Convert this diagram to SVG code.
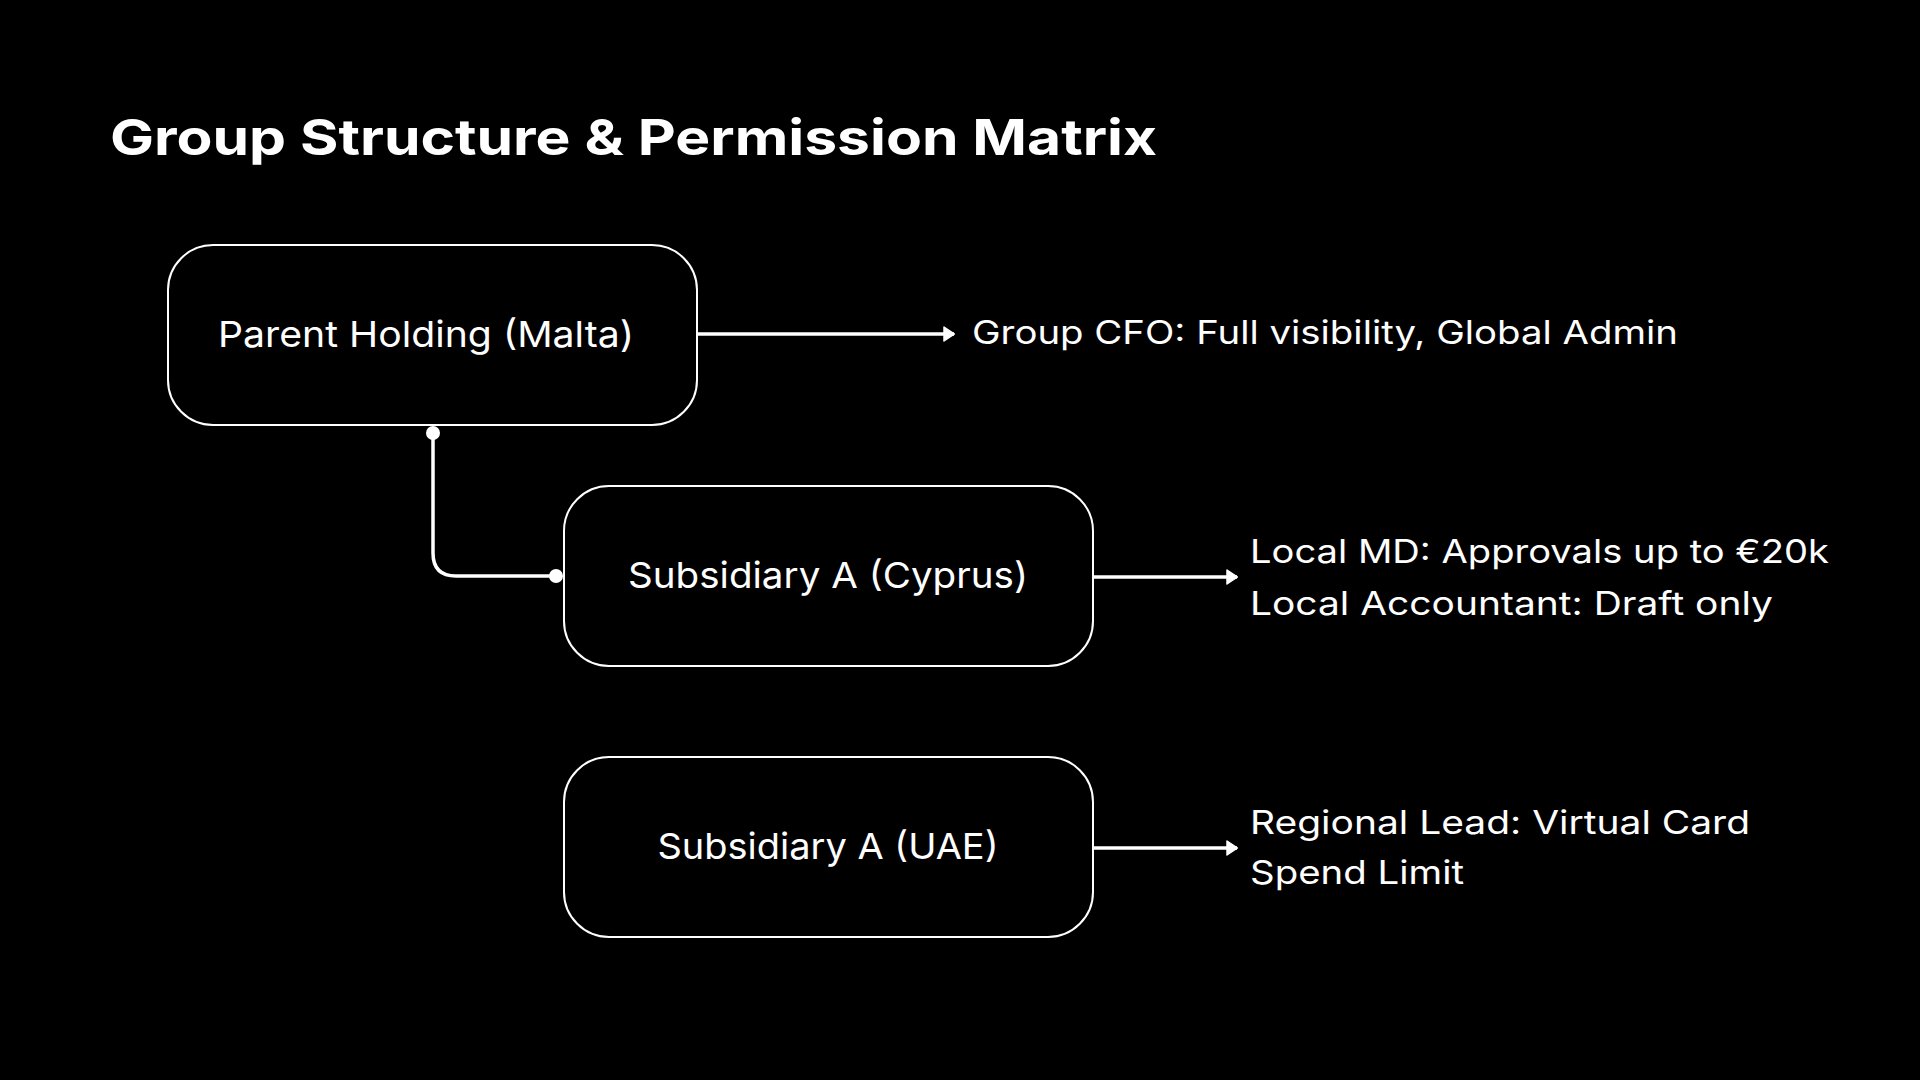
<svg xmlns="http://www.w3.org/2000/svg" width="1920" height="1080" viewBox="0 0 1920 1080">
<defs>
<marker id="arrow" viewBox="0 0 12 16" refX="11" refY="8" markerWidth="12" markerHeight="16" markerUnits="userSpaceOnUse" orient="auto">
<path d="M1,1 L11.5,8 L1,15 Z" fill="#ffffff" stroke="#ffffff" stroke-width="1.5" stroke-linejoin="round"/>
</marker>
<style>
.node rect{fill:#000000;stroke:#ffffff;stroke-width:2}
.ntext{font-family:"Inter","Open Sans","Liberation Sans",sans-serif;font-size:36px;fill:#ffffff;text-anchor:middle}
.rtext{font-family:"Inter","Open Sans","Liberation Sans",sans-serif;font-size:33px;fill:#ffffff}
.title{font-family:"Inter","Open Sans","Liberation Sans",sans-serif;font-size:50px;font-weight:700;fill:#ffffff}
.conn{fill:none;stroke:#ffffff;stroke-width:3.5}
</style>
</defs>
<rect x="0" y="0" width="1920" height="1080" fill="#000000"/>
<text class="title" x="110" y="155" textLength="1047" lengthAdjust="spacingAndGlyphs">Group Structure &amp; Permission Matrix</text>

<g id="connectors">
<path class="conn" d="M697,334 L954,334" marker-end="url(#arrow)"/>
<path class="conn" d="M1093,577 L1237,577" marker-end="url(#arrow)"/>
<path class="conn" d="M1093,848 L1237,848" marker-end="url(#arrow)"/>
<path class="conn" d="M433,433 L433,553 Q433,576 456,576 L556,576"/>
<circle cx="433" cy="433" r="7" fill="#ffffff"/>
<circle cx="556" cy="576" r="7" fill="#ffffff"/>
</g>

<g id="node-parent" class="node">
<rect x="168" y="245" width="529" height="180" rx="45" ry="45"/>
<text class="ntext" x="426" y="347" textLength="416" lengthAdjust="spacingAndGlyphs">Parent Holding (Malta)</text>
</g>
<g id="node-cyprus" class="node">
<rect x="564" y="486" width="529" height="180" rx="45" ry="45"/>
<text class="ntext" x="828" y="588" textLength="400" lengthAdjust="spacingAndGlyphs">Subsidiary A (Cyprus)</text>
</g>
<g id="node-uae" class="node">
<rect x="564" y="757" width="529" height="180" rx="45" ry="45"/>
<text class="ntext" x="828" y="859" textLength="341" lengthAdjust="spacingAndGlyphs">Subsidiary A (UAE)</text>
</g>

<g id="label-parent">
<text class="rtext" x="972" y="344" textLength="706" lengthAdjust="spacingAndGlyphs">Group CFO: Full visibility, Global Admin</text>
</g>
<g id="label-cyprus">
<text class="rtext" x="1250" y="563" textLength="579" lengthAdjust="spacingAndGlyphs">Local MD: Approvals up to €20k</text>
<text class="rtext" x="1250" y="615" textLength="523" lengthAdjust="spacingAndGlyphs">Local Accountant: Draft only</text>
</g>
<g id="label-uae">
<text class="rtext" x="1250" y="834" textLength="500" lengthAdjust="spacingAndGlyphs">Regional Lead: Virtual Card</text>
<text class="rtext" x="1250" y="884" textLength="214" lengthAdjust="spacingAndGlyphs">Spend Limit</text>
</g>
</svg>
